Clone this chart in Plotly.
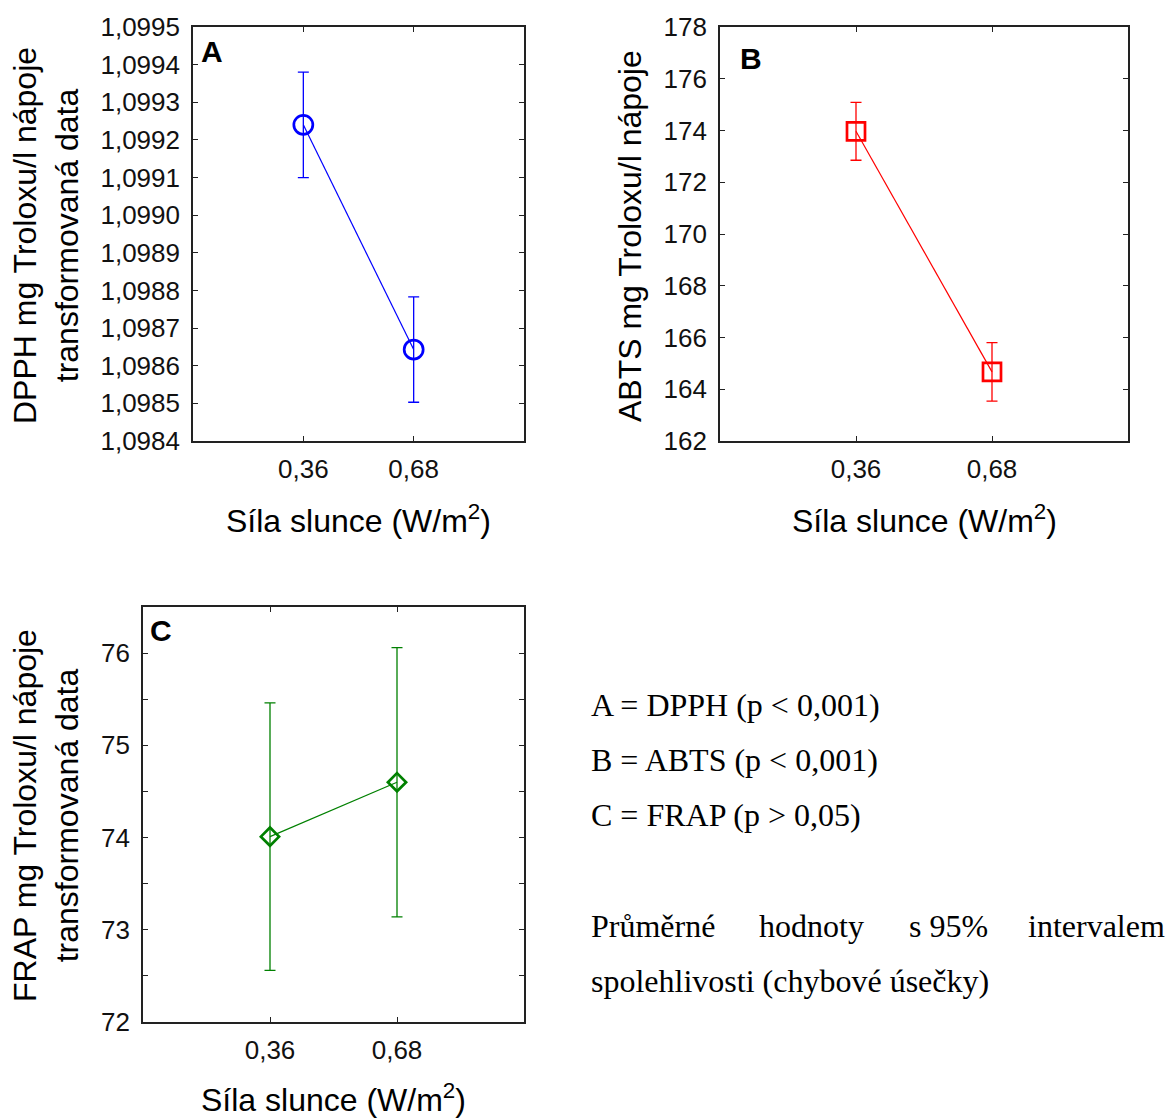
import plotly.graph_objects as go

# ---- data ----
x_labels = ["0,36", "0,68"]
dpph_mean = [1.09924, 1.098643]
dpph_ci = [0.00014, 0.00014]
abts_mean = [173.97, 164.67]
abts_ci = [1.12, 1.13]
frap_mean = [74.01, 74.60]
frap_ci = [1.45, 1.46]

panel_letters = ["A", "B", "C"]
y_titles = ["DPPH mg Troloxu/l nápoje<br>transformovaná data",
            "ABTS mg Troloxu/l nápoje",
            "FRAP mg Troloxu/l nápoje<br>transformovaná data"]
x_title = "Síla slunce (W/m<sup>2</sup>)"
notes = ["A = DPPH (p < 0,001)", "B = ABTS (p < 0,001)", "C = FRAP (p > 0,05)"]
note_words = ["Průměrné", "hodnoty", "s 95%", "intervalem"]
note_last = "spolehlivosti (chybové úsečky)"

W, H = 1168, 1118
SANS = "Liberation Sans, Arial, sans-serif"
SERIF = "Liberation Serif, Times New Roman, serif"

def px_x(p):
    return p / W

def px_y(p):
    return 1 - p / H

fig = go.Figure()

series = [
    (dpph_mean, dpph_ci, "#0000FF", "circle-open", 19, "x", "y"),
    (abts_mean, abts_ci, "#FF0000", "square-open", 18, "x2", "y2"),
    (frap_mean, frap_ci, "#008000", "diamond-open", 14, "x3", "y3"),
]
for mean, ci, col, sym, sz, xa, ya in series:
    fig.add_trace(go.Scatter(
        x=x_labels, y=mean, mode="lines+markers", xaxis=xa, yaxis=ya,
        line=dict(color=col, width=1.2),
        marker=dict(symbol=sym, size=sz, color=col, line=dict(color=col, width=2.7)),
        error_y=dict(type="data", array=ci, visible=True, color=col, thickness=1.3, width=5.5),
        showlegend=False, hoverinfo="skip", cliponaxis=False,
    ))

# axes boxes in pixels: (left, right, top, bottom)
boxes = {
    "A": (193, 524, 27, 441),
    "B": (720, 1128, 27, 441),
    "C": (143, 524, 607, 1022),
}
axis_common = dict(showline=True, linecolor="#222", linewidth=1.6, mirror="ticks",
                   ticks="inside", ticklen=5, tickwidth=1.4, tickcolor="#222",
                   showgrid=False, zeroline=False, automargin=False,
                   tickfont=dict(family=SANS, size=26, color="#111"))

layout = dict(
    width=W, height=H, margin=dict(l=0, r=0, t=0, b=0, autoexpand=False),
    paper_bgcolor="white", plot_bgcolor="white", separators=", ",
    showlegend=False,
)

names = [("A", "xaxis", "yaxis", "y", "x"), ("B", "xaxis2", "yaxis2", "y2", "x2"),
         ("C", "xaxis3", "yaxis3", "y3", "x3")]
yranges = {"A": [1.0984, 1.0995], "B": [162, 178], "C": [72, 76.5]}
ydticks = {"A": 0.0001, "B": 2, "C": 1}
yformats = {"A": ".4f", "B": "d", "C": "d"}

for key, xk, yk, yanchor, xanchor in names:
    l, r, t, b = boxes[key]
    xa = dict(axis_common)
    xa.update(domain=[px_x(l), px_x(r)], anchor=yanchor, type="category",
              range=[-1, 2], ticklabelstandoff=4)
    ya = dict(axis_common)
    ya.update(domain=[px_y(b), px_y(t)], anchor=xanchor, range=yranges[key],
              dtick=ydticks[key], tick0=yranges[key][0], tickformat=yformats[key],
              ticklabelstandoff=6)
    if key == "C":
        ya.update(minor=dict(dtick=0.5, ticks="inside", ticklen=5, tickwidth=1.4,
                             tickcolor="#222", showgrid=False))
    layout[xk] = xa
    layout[yk] = ya

annotations = []
# panel letters
letter_pos = {"A": (199, 51), "B": (738, 59), "C": (148, 630)}
for k in panel_letters:
    x, y = letter_pos[k]
    annotations.append(dict(text="<b>%s</b>" % k, x=px_x(x), y=px_y(y), xref="paper", yref="paper",
                            xanchor="left", yanchor="middle", showarrow=False,
                            font=dict(family=SANS, size=30, color="black")))
# y titles
ytitle_pos = [(46, 236), (630, 236), (46, 816)]
for txt, (x, y) in zip(y_titles, ytitle_pos):
    annotations.append(dict(text=txt, x=px_x(x), y=px_y(y), xref="paper", yref="paper",
                            xanchor="center", yanchor="middle", textangle=-90, showarrow=False,
                            font=dict(family=SANS, size=32, color="black")))
# x titles
xtitle_pos = [(358, 519), (924, 519), (333, 1098)]
for (x, y) in xtitle_pos:
    annotations.append(dict(text=x_title, x=px_x(x), y=px_y(y), xref="paper", yref="paper",
                            xanchor="center", yanchor="middle", showarrow=False,
                            font=dict(family=SERIF if False else SANS, size=32, color="black")))
# notes
for i, n in enumerate(notes):
    annotations.append(dict(text=n, x=px_x(589), y=px_y(705 + 55 * i), xref="paper", yref="paper",
                            xanchor="left", yanchor="middle", showarrow=False,
                            font=dict(family=SERIF, size=32, color="black")))
word_x = [589, 757, 907]
for w, x in zip(note_words[:3], word_x):
    annotations.append(dict(text=w, x=px_x(x), y=px_y(926), xref="paper", yref="paper",
                            xanchor="left", yanchor="middle", showarrow=False,
                            font=dict(family=SERIF, size=32, color="black")))
annotations.append(dict(text=note_words[3], x=px_x(1167), y=px_y(926), xref="paper", yref="paper",
                        xanchor="right", yanchor="middle", showarrow=False,
                        font=dict(family=SERIF, size=32, color="black")))
annotations.append(dict(text=note_last, x=px_x(589), y=px_y(981), xref="paper", yref="paper",
                        xanchor="left", yanchor="middle", showarrow=False,
                        font=dict(family=SERIF, size=32, color="black")))
layout["annotations"] = annotations

fig.update_layout(**layout)
fig.write_html("out.html")
